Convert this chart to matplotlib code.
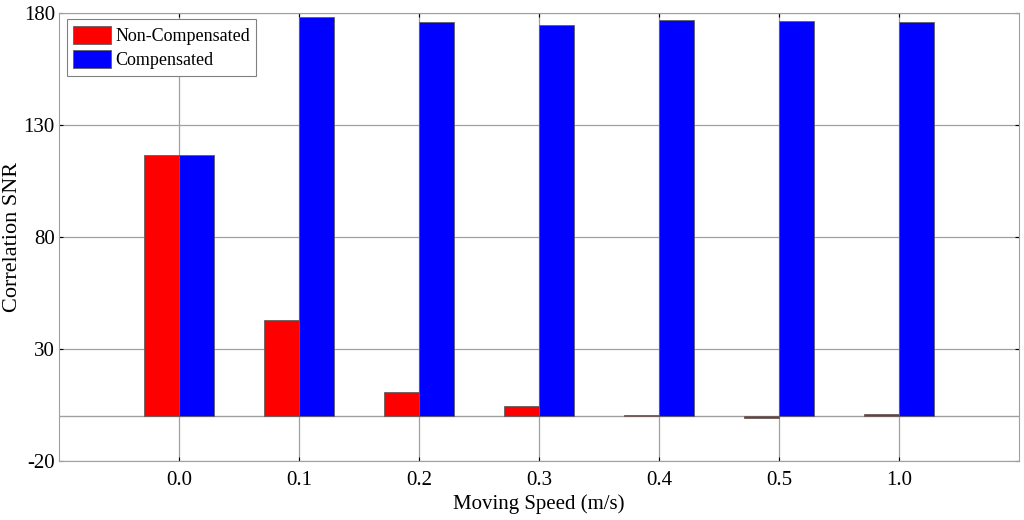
import numpy as np
import matplotlib.pyplot as plt

plt.rcParams['font.family'] = ['Liberation Serif', 'DejaVu Serif']
plt.rcParams['axes.unicode_minus'] = False

speeds = ['0.0', '0.1', '0.2', '0.3', '0.4', '0.5', '1.0']
non_comp = [116.5, 42.9, 10.8, 4.5, 0.5, -1.0, 0.9]
comp = [116.5, 178.0, 176.0, 174.6, 176.6, 176.2, 175.7]

fig = plt.figure(figsize=(10.24, 5.2), dpi=100)
ax = fig.add_axes([0.0576, 0.1135, 0.9375, 0.862])

x = np.arange(1, len(speeds) + 1)
w = 0.29
ax.bar(x - w / 2, non_comp, w, color='#ff0000', edgecolor='#606060', linewidth=0.6,
       label='Non-Compensated', zorder=3)
ax.bar(x + w / 2, comp, w, color='#0000ff', edgecolor='#606060', linewidth=0.6,
       label='Compensated', zorder=3)
ax.axhline(0, color='#a0a0a0', linewidth=1.0, zorder=2)

ax.set_xlim(0, 8)
ax.set_ylim(-20, 180)
ax.set_xticks(x)
ax.set_xticklabels(speeds)
ax.set_yticks([-20, 30, 80, 130, 180])
ax.tick_params(direction='in', length=3, width=0.8, color='black',
               top=True, right=True, labelsize=15)
ax.tick_params(axis='x', pad=7)
ax.tick_params(axis='y', pad=3)
ax.grid(True, color='#a0a0a0', linewidth=0.9, zorder=0)
ax.set_axisbelow(True)
for s in ax.spines.values():
    s.set_color('#a0a0a0')

ax.set_xlabel('Moving Speed (m/s)', fontsize=15, labelpad=3)
ax.set_ylabel('Correlation SNR', fontsize=16)
ax.yaxis.set_label_coords(-0.0385, 0.5)

leg = ax.legend(loc='upper left', bbox_to_anchor=(0.008, 0.985), borderaxespad=0,
                fontsize=13, handlelength=2.1, handleheight=1.15, handletextpad=0.25,
                borderpad=0.35, labelspacing=0.3, fancybox=False,
                framealpha=1, edgecolor='#808080')
leg.get_frame().set_linewidth(0.8)

fig.savefig('out.png', dpi=100)
